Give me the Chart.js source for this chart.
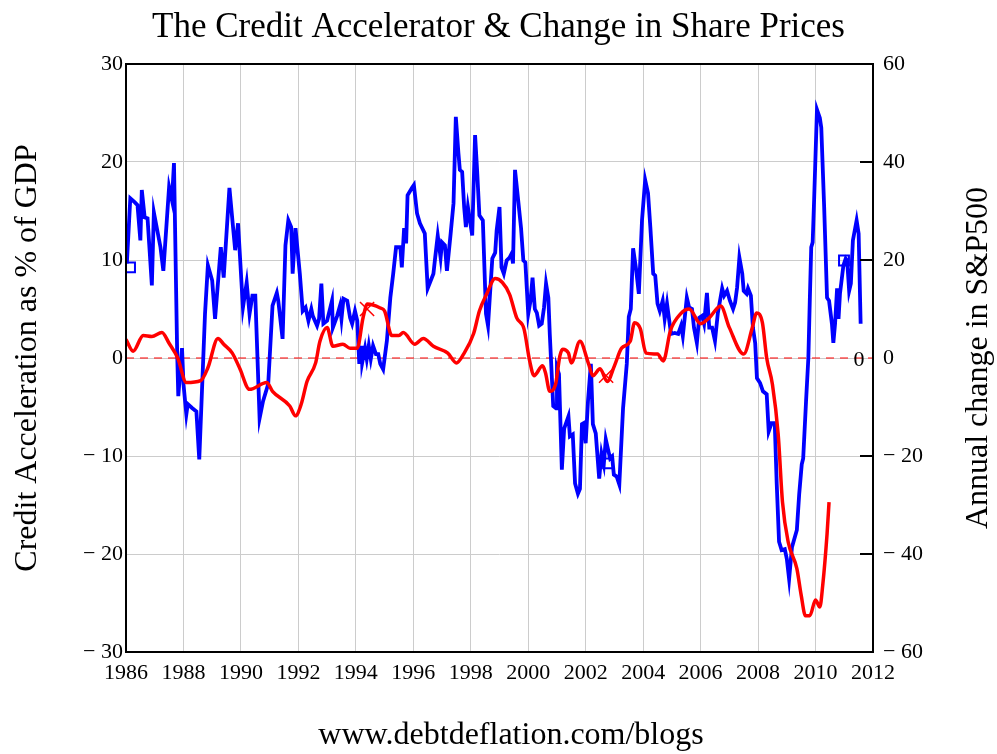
<!DOCTYPE html>
<html>
<head>
<meta charset="utf-8">
<title>The Credit Accelerator & Change in Share Prices</title>
<script src="https://cdn.jsdelivr.net/npm/chart.js@4.4.0/dist/chart.umd.min.js"></script>
<style>
  html, body { margin: 0; padding: 0; background: #fff; }
  #wrap { width: 997px; height: 754px; }
</style>
</head>
<body>
<div id="wrap"><canvas id="creditChart" width="997" height="754"></canvas></div>
<script>
// Credit acceleration (% of GDP), left axis
const redYears = [1986.0, 1986.25, 1986.6, 1986.9, 1987.25, 1987.5, 1987.8, 1988.1, 1988.6, 1988.85,
  1989.2, 1989.4, 1989.7, 1989.95, 1990.3, 1990.9, 1991.1, 1991.7, 1991.9, 1992.1,
  1992.3, 1992.6, 1992.75, 1993.0, 1993.2, 1993.55, 1993.8, 1994.05, 1994.25, 1994.4,
  1994.85, 1995.0, 1995.25, 1995.5, 1995.65, 1996.05, 1996.35, 1996.7, 1997.2, 1997.5,
  1997.75, 1998.1, 1998.3, 1998.55, 1998.85, 1999.1, 1999.35, 1999.6, 1999.85, 2000.05,
  2000.2, 2000.5, 2000.6, 2000.75, 2000.95, 2001.1, 2001.2, 2001.4, 2001.5, 2001.8,
  2002.1, 2002.25, 2002.5, 2002.75, 2003.0, 2003.25, 2003.55, 2003.7, 2003.9, 2004.1,
  2004.5, 2004.7, 2004.95, 2005.3, 2005.6, 2006.0, 2006.3, 2006.7, 2007.0, 2007.5,
  2007.8, 2007.95, 2008.15, 2008.3, 2008.5, 2008.7, 2008.85, 2009.05, 2009.35, 2009.5,
  2009.65, 2009.8, 2010.0, 2010.15, 2010.25, 2010.4, 2010.47];
const redValues = [1.9, 0.7, 2.3, 2.2, 2.6, 1.5, 0, -2.5, -2.3, -1,
  2, 1.4, 0.5, -1, -3.2, -2.5, -3.4, -4.9, -5.9, -4.7,
  -2.4, -0.5, 1.7, 3.1, 1.2, 1.4, 1.0, 1.0, 4.1, 5.5,
  5.1, 4.8, 2.3, 2.3, 2.6, 1.4, 2.0, 1.2, 0.5, -0.5,
  0.4, 2.5, 4.8, 6.5, 8.1, 7.7, 6.5, 4.1, 3.0, -0.3,
  -1.8, -0.8, -1.5, -3.4, -2.7, 0.2, 0.9, 0.5, -0.5, 1.7,
  -0.6, -1.8, -1.1, -2.4, -0.8, 1.0, 1.7, 3.6, 3.0, 0.5,
  0.4, -0.3, 2.8, 4.5, 5.0, 3.5, 4.1, 5.3, 3.1, 0.4,
  3.1, 4.6, 3.6, 0, -2.7, -7.8, -14.7, -18.8, -21.5, -24.2,
  -26.3, -26.3, -24.7, -25.4, -23.2, -18, -14.7];

// Annual change in S&P500 (%), right axis
const blueYears = [1986.03, 1986.15, 1986.3, 1986.4, 1986.5, 1986.55, 1986.65, 1986.75, 1986.9, 1986.97,
  1987.2, 1987.3, 1987.5, 1987.6, 1987.67, 1987.78, 1987.82, 1987.95, 1988.0, 1988.1,
  1988.15, 1988.3, 1988.45, 1988.55, 1988.75, 1988.85, 1989.0, 1989.1, 1989.3, 1989.4,
  1989.6, 1989.8, 1989.9, 1990.07, 1990.2, 1990.3, 1990.4, 1990.5, 1990.65, 1990.77,
  1990.95, 1991.1, 1991.25, 1991.3, 1991.45, 1991.55, 1991.65, 1991.75, 1991.8, 1991.9,
  1992.05, 1992.15, 1992.25, 1992.35, 1992.45, 1992.5, 1992.65, 1992.72, 1992.8, 1992.87,
  1993.0, 1993.17, 1993.2, 1993.35, 1993.45, 1993.5, 1993.57, 1993.7, 1993.8, 1993.87,
  1993.97, 1994.05, 1994.12, 1994.2, 1994.22, 1994.32, 1994.38, 1994.45, 1994.52, 1994.6,
  1994.7, 1994.78, 1994.85, 1994.95, 1995.08, 1995.2, 1995.3, 1995.4, 1995.55, 1995.6,
  1995.68, 1995.75, 1995.8, 1995.95, 1996.02, 1996.13, 1996.23, 1996.4, 1996.5, 1996.7,
  1996.75, 1996.85, 1996.95, 1997.0, 1997.1, 1997.17, 1997.3, 1997.4, 1997.48, 1997.57,
  1997.62, 1997.7, 1997.77, 1997.83, 1997.9, 1998.05, 1998.15, 1998.22, 1998.3, 1998.42,
  1998.53, 1998.6, 1998.67, 1998.75, 1998.85, 1998.9, 1999.0, 1999.07, 1999.15, 1999.25,
  1999.35, 1999.42, 1999.47, 1999.54, 1999.65, 1999.75, 1999.83, 1999.9, 2000.0, 2000.08,
  2000.15, 2000.23, 2000.3, 2000.38, 2000.47, 2000.55, 2000.62, 2000.7, 2000.75, 2000.87,
  2000.97, 2001.0, 2001.07, 2001.17, 2001.25, 2001.4, 2001.45, 2001.55, 2001.63, 2001.73,
  2001.8, 2001.87, 2001.93, 2002.0, 2002.08, 2002.18, 2002.25, 2002.35, 2002.47, 2002.55,
  2002.63, 2002.7, 2002.78, 2002.85, 2002.92, 2002.98, 2003.08, 2003.17, 2003.3, 2003.43,
  2003.5, 2003.57, 2003.65, 2003.75, 2003.85, 2003.96, 2004.07, 2004.17, 2004.25, 2004.35,
  2004.42, 2004.5, 2004.58, 2004.68, 2004.75, 2004.83, 2004.97, 2005.1, 2005.22, 2005.32,
  2005.38, 2005.52, 2005.6, 2005.7, 2005.77, 2005.87, 2005.95, 2006.05, 2006.12, 2006.22,
  2006.3, 2006.4, 2006.5, 2006.6, 2006.75, 2006.82, 2006.92, 2007.02, 2007.13, 2007.2,
  2007.27, 2007.35, 2007.45, 2007.5, 2007.6, 2007.65, 2007.75, 2007.82, 2007.9, 2007.96,
  2008.07, 2008.17, 2008.3, 2008.37, 2008.47, 2008.58, 2008.65, 2008.73, 2008.82, 2008.93,
  2009.0, 2009.08, 2009.18, 2009.35, 2009.43, 2009.52, 2009.57, 2009.67, 2009.75, 2009.8,
  2009.85, 2009.9, 2009.95, 2010.05, 2010.15, 2010.2, 2010.3, 2010.4, 2010.47, 2010.57,
  2010.62, 2010.68, 2010.75, 2010.8, 2010.85, 2010.97, 2011.05, 2011.1, 2011.17, 2011.23,
  2011.3, 2011.43, 2011.5, 2011.57];
const blueValues = [19.3, 32.6, 31.8, 31.2, 24, 34.3, 28.7, 28.5, 14.8, 29.7,
  22.6, 17.8, 34.9, 32.2, 39.8, 1.4, -7.8, 2, -5.3, -11.5,
  -9.4, -10.2, -10.9, -20.7, 9, 18.9, 15.8, 8, 22.6, 16.4,
  34.7, 22, 27.5, 10.3, 15.4, 9, 12.7, 12.7, -12.3, -8.8,
  -5.3, 10.7, 13.3, 11.7, 3.9, 23, 28.1, 26.7, 17.2, 26.5,
  17.2, 9.6, 10.3, 7.6, 10, 8.6, 6.6, 8, 15.2, 7,
  7.6, 11.7, 6.2, 8.6, 10.7, 8, 12.1, 11.7, 8.2, 7,
  9.6, 7.6, -1.2, 2.5, -1, 2, -0.2, 2.5, -0.2, 2.5,
  0.8, 0.8, -1.2, -2.3, 3.5, 12.3, 17.2, 22.6, 22.6, 18.5,
  26.5, 23.4, 33.2, 34.7, 35.3, 29.5, 27.5, 25.4, 14.2, 17.2,
  19.9, 25, 20.5, 23.6, 23, 17.8, 25.4, 31.6, 49.2, 41.8,
  38.4, 38, 30.8, 26.7, 30.8, 25, 45.5, 38.4, 29.1, 28.1,
  9, 6.6, 13.1, 20.3, 21.5, 26, 30.8, 18.5, 17.2, 19.9,
  20.5, 21.3, 19.3, 38.4, 32.2, 26.5, 19.9, 19.5, 9, 11.7,
  16.4, 10, 9.2, 6.6, 7, 10.3, 15.2, 12.3, 4.9, -9.8,
  -10.3, -2, -3.3, -22.8, -14.4, -11.9, -16, -15.6, -25.6, -27.7,
  -26.7, -13.5, -13.3, -17.4, -8.8, -1.2, -13.5, -15.4, -24.6, -19.5,
  -21.7, -16.6, -18.7, -20.5, -20.1, -23.8, -24.2, -25.8, -10.3, -1.2,
  8.4, 10, 22.4, 18.3, 13.1, 28.1, 36.3, 33.6, 26.7, 17.2,
  16.8, 11.1, 9.6, 11.7, 8, 11.1, 4.9, 5.1, 4.9, 6.6,
  4.5, 12.3, 10.3, 10, 6.2, 3.1, 8.2, 8.6, 7, 13.3,
  6.2, 6.2, 3.5, 9.2, 14.2, 12.7, 13.7, 11.7, 10, 11.3,
  14.4, 20.5, 17.2, 13.7, 13.1, 14.2, 12.7, 6.2, 3, -4.1,
  -5.1, -6.8, -7.4, -15, -13.3, -13.3, -25.8, -37.5, -39.2, -39,
  -41, -45.1, -38.6, -35.1, -27.9, -21.7, -20.5, -8.8, 0, 11.7,
  22.6, 23.6, 32.2, 50.7, 49, 47, 30.8, 12.3, 11.7, 7,
  3.1, 7, 14.2, 8, 13.1, 18.9, 20.3, 19.9, 13.7, 15.2,
  24, 28.1, 25.4, 7];

// trace markers left on the original plot
const squareYears = [1986.14, 1994.3, 2002.78, 2010.99];
const squareValues = [18.5, 1.0, -21.5, 19.9];
const crossYears = [1994.39, 2002.71];
const crossValues = [5.0, -1.8];

const leftTicks = [-30, -20, -10, 0, 10, 20, 30];
const rightTicks = [-60, -40, -20, 0, 20, 40, 60];

const serif = "'Liberation Serif', 'Times New Roman', serif";

function toPoints(xs, ys) {
    return xs.map((x, i) => ({ x: x, y: ys[i] }));
}

function signed(v) {
    return v < 0 ? '\u2212 ' + (-v) : String(v);
}

// zero line, frame, inside ticks, right title, footer
const extras = {
    id: 'extras',
    beforeDatasetsDraw(chart) {
        const { ctx, chartArea } = chart;
        const y0 = chart.scales.y.getPixelForValue(0);
        ctx.save();
        ctx.strokeStyle = '#ff0000';
        ctx.lineWidth = 1;
        ctx.setLineDash([8, 6]);
        ctx.beginPath();
        ctx.moveTo(chartArea.left, y0);
        ctx.lineTo(chartArea.right, y0);
        ctx.stroke();
        ctx.restore();
    },
    afterDraw(chart) {
        const { ctx, chartArea } = chart;
        const yr = chart.scales.y2;
        ctx.save();
        ctx.strokeStyle = '#000';
        ctx.lineWidth = 2;
        ctx.strokeRect(chartArea.left, chartArea.top, chartArea.right - chartArea.left, chartArea.bottom - chartArea.top);
        ctx.beginPath();
        [40, 20, -20, -40].forEach(v => {
            const y = yr.getPixelForValue(v);
            ctx.moveTo(chartArea.right - 13, y);
            ctx.lineTo(chartArea.right, y);
        });
        ctx.stroke();

        ctx.fillStyle = '#000';
        ctx.font = '22px ' + serif;
        ctx.textAlign = 'center';
        ctx.textBaseline = 'middle';
        ctx.fillText('0', chartArea.right - 14, yr.getPixelForValue(0) + 2);

        ctx.font = '32px ' + serif;
        ctx.fillText('www.debtdeflation.com/blogs', 511, 736);

        ctx.translate(979, (chartArea.top + chartArea.bottom) / 2);
        ctx.rotate(-Math.PI / 2);
        ctx.fillText('Annual change in S&P500', 0, 0);
        ctx.restore();
    }
};

const data = {
    datasets: [
        {
            label: 'Credit Acceleration',
            data: toPoints(redYears, redValues),
            borderColor: '#ff0000',
            borderWidth: 3.5,
            pointRadius: 0,
            cubicInterpolationMode: 'monotone',
            yAxisID: 'y'
        },
        {
            label: 'S&P500',
            data: toPoints(blueYears, blueValues),
            borderColor: '#0000ff',
            borderWidth: 3.8,
            pointRadius: 0,
            yAxisID: 'y2'
        },
        {
            label: 'squares',
            data: toPoints(squareYears, squareValues),
            showLine: false,
            pointStyle: 'rect',
            pointRadius: 7,
            borderColor: '#0000ff',
            backgroundColor: 'rgba(0,0,0,0)',
            borderWidth: 2,
            yAxisID: 'y2'
        },
        {
            label: 'crosses',
            data: toPoints(crossYears, crossValues),
            showLine: false,
            pointStyle: 'crossRot',
            pointRadius: 10,
            borderColor: '#ff0000',
            borderWidth: 1.5,
            yAxisID: 'y'
        }
    ]
};

const config = {
    type: 'line',
    data: data,
    options: {
        responsive: false,
        animation: false,
        layout: { padding: 0 },
        plugins: {
            legend: { display: false },
            tooltip: { enabled: false },
            title: {
                display: true,
                text: 'The Credit Accelerator & Change in Share Prices',
                color: '#000',
                font: { family: serif, size: 35, weight: 'normal', lineHeight: 1.2 },
                padding: { top: 7, bottom: 15 }
            }
        },
        scales: {
            x: {
                type: 'linear',
                min: 1986,
                max: 2012,
                afterFit(scale) { scale.height = 102; },
                afterBuildTicks(scale) {
                    const t = [];
                    for (let v = 1986; v <= 2012; v += 2) t.push({ value: v });
                    scale.ticks = t;
                },
                ticks: {
                    color: '#000',
                    padding: 8,
                    maxRotation: 0,
                    font: { family: serif, size: 22 },
                    callback: v => String(v)
                },
                grid: { color: '#cccccc', lineWidth: 1, drawTicks: false },
                border: { display: false }
            },
            y: {
                position: 'left',
                min: -30,
                max: 30,
                afterFit(scale) { scale.width = 126; },
                afterBuildTicks(scale) { scale.ticks = leftTicks.map(v => ({ value: v })); },
                ticks: {
                    color: '#000',
                    padding: 3,
                    font: { family: serif, size: 22 },
                    callback: v => signed(v)
                },
                grid: { color: '#cccccc', lineWidth: 1, drawTicks: false },
                border: { display: false },
                title: {
                    display: true,
                    text: 'Credit Acceleration as % of GDP',
                    color: '#000',
                    font: { family: serif, size: 32, lineHeight: 1.2 },
                    padding: { top: 8, bottom: 0 }
                }
            },
            y2: {
                position: 'right',
                min: -60,
                max: 60,
                afterFit(scale) { scale.width = 124; },
                afterBuildTicks(scale) { scale.ticks = rightTicks.map(v => ({ value: v })); },
                ticks: {
                    color: '#000',
                    padding: 10,
                    font: { family: serif, size: 22 },
                    callback: v => signed(v)
                },
                grid: { drawOnChartArea: false, drawTicks: false },
                border: { display: false }
            }
        }
    },
    plugins: [extras]
};

const myChart = document.querySelector('#creditChart');
if (myChart) {
    new Chart(myChart, config);
} else {
    console.error('canvas not found');
}
</script>
</body>
</html>
